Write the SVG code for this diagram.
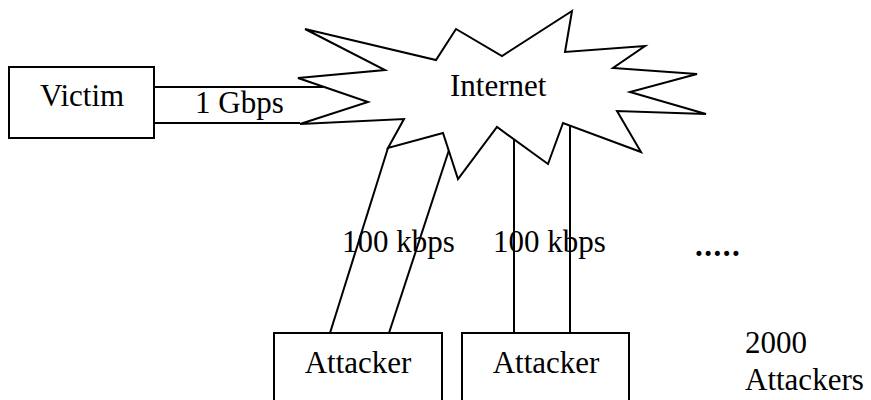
<svg xmlns="http://www.w3.org/2000/svg" width="871" height="400" viewBox="0 0 871 400">
<style>
  .box { fill: #fff; stroke: #000; stroke-width: 2; }
  .cloud { fill: #fff; stroke: #000; stroke-width: 2; stroke-linejoin: miter; }
  .link { stroke: #000; stroke-width: 2; fill: none; }
  text { font-family: "Liberation Serif", "Times New Roman", serif; font-size: 31px; fill: #000; }
</style>
<rect width="871" height="400" fill="#fff"/>
<g id="connectors">
  <line class="link" x1="154" y1="87" x2="323" y2="87"/>
  <line class="link" x1="154" y1="123" x2="300" y2="123"/>
  <line class="link" x1="330" y1="333" x2="388" y2="148"/>
  <line class="link" x1="389" y1="333" x2="449" y2="150"/>
  <line class="link" x1="514" y1="333" x2="514" y2="140"/>
  <line class="link" x1="570" y1="333" x2="570" y2="126"/>
</g>
<g id="internet">
  <polygon class="cloud" points="305,29 436,60 456,29 502,56 572,11 565,52 645,46 613,68 697,74 630,92 706,114 617,111 641,152 563,123 548,164 497,127 458,179 443,133 388,148 404,119 300,124 368,102 298,78 385,70"/>
  <text x="450" y="96">Internet</text>
</g>
<g id="victim">
  <rect class="box" x="9" y="67" width="145" height="71"/>
  <text x="82" y="106" text-anchor="middle">Victim</text>
</g>
<g id="attacker1">
  <rect class="box" x="274" y="333" width="168" height="80"/>
  <text x="358" y="373" text-anchor="middle">Attacker</text>
</g>
<g id="attacker2">
  <rect class="box" x="462" y="333" width="167" height="80"/>
  <text x="546" y="373" text-anchor="middle">Attacker</text>
</g>
<g id="labels">
  <text x="195" y="113">1 Gbps</text>
  <text x="342" y="252">100 kbps</text>
  <text x="493" y="252">100 kbps</text>
  <text x="695" y="256" font-weight="bold" letter-spacing="1.5">.....</text>
  <text x="745" y="353">2000</text>
  <text x="745" y="390">Attackers</text>
</g>
</svg>
